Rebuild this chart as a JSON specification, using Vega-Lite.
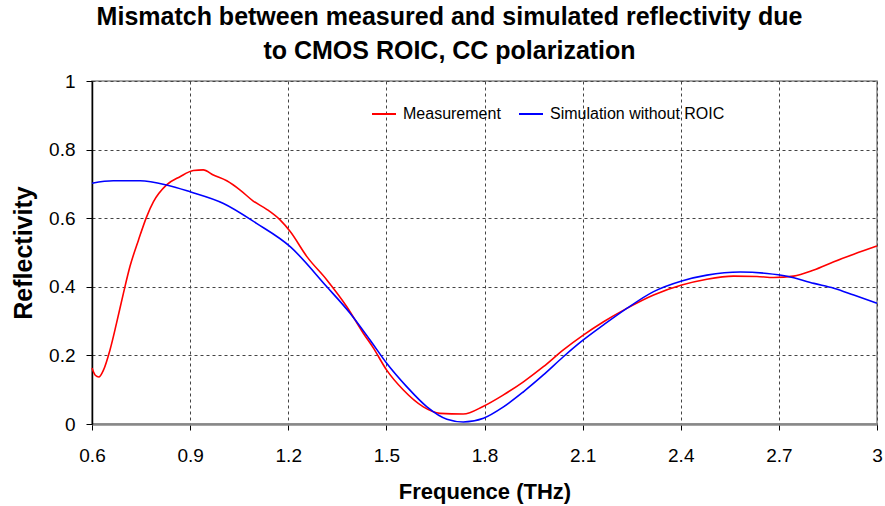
{
  "$schema": "https://vega.github.io/schema/vega-lite/v6.json",
  "autosize": {"type": "none"},
  "width": 785,
  "height": 343,
  "padding": {"left": 92, "top": 81, "right": 8, "bottom": 82},
  "background": "white",
  "title": {
    "text": ["Mismatch between measured and simulated reflectivity due", "to CMOS ROIC, CC polarization"],
    "font": "Liberation Sans",
    "fontSize": 25,
    "fontWeight": "bold",
    "color": "black",
    "anchor": "middle",
    "dx": -35,
    "offset": 8,
    "lineHeight": 34
  },
  "config": {
    "view": {"stroke": "#888888", "strokeWidth": 1.5},
    "font": "Liberation Sans"
  },
  "data": {
    "values": [
      {"f": 0.6, "r": 0.163, "s": "Measurement"},
      {"f": 0.61, "r": 0.142, "s": "Measurement"},
      {"f": 0.621, "r": 0.137, "s": "Measurement"},
      {"f": 0.635, "r": 0.157, "s": "Measurement"},
      {"f": 0.655, "r": 0.216, "s": "Measurement"},
      {"f": 0.675, "r": 0.294, "s": "Measurement"},
      {"f": 0.696, "r": 0.381, "s": "Measurement"},
      {"f": 0.716, "r": 0.459, "s": "Measurement"},
      {"f": 0.742, "r": 0.536, "s": "Measurement"},
      {"f": 0.767, "r": 0.604, "s": "Measurement"},
      {"f": 0.788, "r": 0.648, "s": "Measurement"},
      {"f": 0.828, "r": 0.697, "s": "Measurement"},
      {"f": 0.869, "r": 0.721, "s": "Measurement"},
      {"f": 0.91, "r": 0.739, "s": "Measurement"},
      {"f": 0.94, "r": 0.741, "s": "Measurement"},
      {"f": 0.971, "r": 0.726, "s": "Measurement"},
      {"f": 1.012, "r": 0.709, "s": "Measurement"},
      {"f": 1.053, "r": 0.682, "s": "Measurement"},
      {"f": 1.093, "r": 0.65, "s": "Measurement"},
      {"f": 1.134, "r": 0.626, "s": "Measurement"},
      {"f": 1.175, "r": 0.595, "s": "Measurement"},
      {"f": 1.206, "r": 0.561, "s": "Measurement"},
      {"f": 1.257, "r": 0.488, "s": "Measurement"},
      {"f": 1.318, "r": 0.42, "s": "Measurement"},
      {"f": 1.379, "r": 0.342, "s": "Measurement"},
      {"f": 1.43, "r": 0.264, "s": "Measurement"},
      {"f": 1.46, "r": 0.222, "s": "Measurement"},
      {"f": 1.501, "r": 0.157, "s": "Measurement"},
      {"f": 1.552, "r": 0.099, "s": "Measurement"},
      {"f": 1.613, "r": 0.05, "s": "Measurement"},
      {"f": 1.664, "r": 0.031, "s": "Measurement"},
      {"f": 1.735, "r": 0.029, "s": "Measurement"},
      {"f": 1.797, "r": 0.052, "s": "Measurement"},
      {"f": 1.858, "r": 0.085, "s": "Measurement"},
      {"f": 1.919, "r": 0.123, "s": "Measurement"},
      {"f": 1.98, "r": 0.167, "s": "Measurement"},
      {"f": 2.041, "r": 0.216, "s": "Measurement"},
      {"f": 2.102, "r": 0.259, "s": "Measurement"},
      {"f": 2.164, "r": 0.298, "s": "Measurement"},
      {"f": 2.235, "r": 0.337, "s": "Measurement"},
      {"f": 2.317, "r": 0.376, "s": "Measurement"},
      {"f": 2.403, "r": 0.405, "s": "Measurement"},
      {"f": 2.48, "r": 0.422, "s": "Measurement"},
      {"f": 2.561, "r": 0.431, "s": "Measurement"},
      {"f": 2.633, "r": 0.43, "s": "Measurement"},
      {"f": 2.684, "r": 0.427, "s": "Measurement"},
      {"f": 2.745, "r": 0.431, "s": "Measurement"},
      {"f": 2.807, "r": 0.449, "s": "Measurement"},
      {"f": 2.868, "r": 0.473, "s": "Measurement"},
      {"f": 2.929, "r": 0.495, "s": "Measurement"},
      {"f": 3.0, "r": 0.519, "s": "Measurement"},
      {"f": 0.6, "r": 0.702, "s": "Simulation without ROIC"},
      {"f": 0.665, "r": 0.709, "s": "Simulation without ROIC"},
      {"f": 0.747, "r": 0.709, "s": "Simulation without ROIC"},
      {"f": 0.828, "r": 0.697, "s": "Simulation without ROIC"},
      {"f": 0.9, "r": 0.677, "s": "Simulation without ROIC"},
      {"f": 1.002, "r": 0.643, "s": "Simulation without ROIC"},
      {"f": 1.103, "r": 0.585, "s": "Simulation without ROIC"},
      {"f": 1.206, "r": 0.517, "s": "Simulation without ROIC"},
      {"f": 1.318, "r": 0.4, "s": "Simulation without ROIC"},
      {"f": 1.389, "r": 0.323, "s": "Simulation without ROIC"},
      {"f": 1.45, "r": 0.245, "s": "Simulation without ROIC"},
      {"f": 1.501, "r": 0.177, "s": "Simulation without ROIC"},
      {"f": 1.562, "r": 0.109, "s": "Simulation without ROIC"},
      {"f": 1.624, "r": 0.05, "s": "Simulation without ROIC"},
      {"f": 1.685, "r": 0.014, "s": "Simulation without ROIC"},
      {"f": 1.735, "r": 0.006, "s": "Simulation without ROIC"},
      {"f": 1.797, "r": 0.017, "s": "Simulation without ROIC"},
      {"f": 1.858, "r": 0.05, "s": "Simulation without ROIC"},
      {"f": 1.919, "r": 0.094, "s": "Simulation without ROIC"},
      {"f": 1.98, "r": 0.143, "s": "Simulation without ROIC"},
      {"f": 2.041, "r": 0.196, "s": "Simulation without ROIC"},
      {"f": 2.102, "r": 0.245, "s": "Simulation without ROIC"},
      {"f": 2.164, "r": 0.289, "s": "Simulation without ROIC"},
      {"f": 2.235, "r": 0.337, "s": "Simulation without ROIC"},
      {"f": 2.317, "r": 0.386, "s": "Simulation without ROIC"},
      {"f": 2.403, "r": 0.417, "s": "Simulation without ROIC"},
      {"f": 2.48, "r": 0.434, "s": "Simulation without ROIC"},
      {"f": 2.582, "r": 0.443, "s": "Simulation without ROIC"},
      {"f": 2.664, "r": 0.439, "s": "Simulation without ROIC"},
      {"f": 2.725, "r": 0.431, "s": "Simulation without ROIC"},
      {"f": 2.807, "r": 0.41, "s": "Simulation without ROIC"},
      {"f": 2.868, "r": 0.396, "s": "Simulation without ROIC"},
      {"f": 2.929, "r": 0.376, "s": "Simulation without ROIC"},
      {"f": 3.0, "r": 0.352, "s": "Simulation without ROIC"}
    ]
  },
  "mark": {"type": "line", "interpolate": "monotone", "strokeWidth": 1.6},
  "encoding": {
    "x": {
      "field": "f",
      "type": "quantitative",
      "scale": {"domain": [0.6, 3.0], "nice": false, "zero": false},
      "axis": {
        "values": [0.6, 0.9, 1.2, 1.5, 1.8, 2.1, 2.4, 2.7, 3.0],
        "format": "~g",
        "title": "Frequence (THz)",
        "titleFont": "Liberation Sans",
        "titleFontSize": 22,
        "titleFontWeight": "bold",
        "titleColor": "black",
        "titlePadding": 16,
        "labelFont": "Liberation Sans",
        "labelFontSize": 19,
        "labelColor": "black",
        "labelPadding": 16,
        "labelFlush": false,
        "domainColor": "#888888",
        "domainWidth": 2.5,
        "tickColor": "black",
        "tickSize": 6,
        "gridColor": "#444444",
        "gridDash": [3, 3],
        "gridWidth": 1
      }
    },
    "y": {
      "field": "r",
      "type": "quantitative",
      "scale": {"domain": [0, 1], "nice": false},
      "axis": {
        "values": [0, 0.2, 0.4, 0.6, 0.8, 1],
        "format": "~g",
        "title": "Reflectivity",
        "titleFont": "Liberation Sans",
        "titleFontSize": 25,
        "titleFontWeight": "bold",
        "titleColor": "black",
        "titlePadding": 12,
        "labelFont": "Liberation Sans",
        "labelFontSize": 19,
        "labelColor": "black",
        "labelPadding": 11,
        "labelFlush": false,
        "domainColor": "black",
        "domainWidth": 1.5,
        "tickColor": "black",
        "tickSize": 6,
        "gridColor": "#444444",
        "gridDash": [3, 3],
        "gridWidth": 1
      }
    },
    "color": {
      "field": "s",
      "type": "nominal",
      "scale": {"domain": ["Measurement", "Simulation without ROIC"], "range": ["#ff0000", "#0000ff"]},
      "legend": {
        "title": null,
        "orient": "none",
        "legendX": 279,
        "legendY": 20,
        "direction": "horizontal",
        "symbolType": "stroke",
        "symbolSize": 576,
        "symbolStrokeWidth": 2,
        "labelFont": "Liberation Sans",
        "labelFontSize": 16,
        "labelColor": "black",
        "labelOffset": 6,
        "labelLimit": 400,
        "columnPadding": 14,
        "padding": 0
      }
    }
  }
}
